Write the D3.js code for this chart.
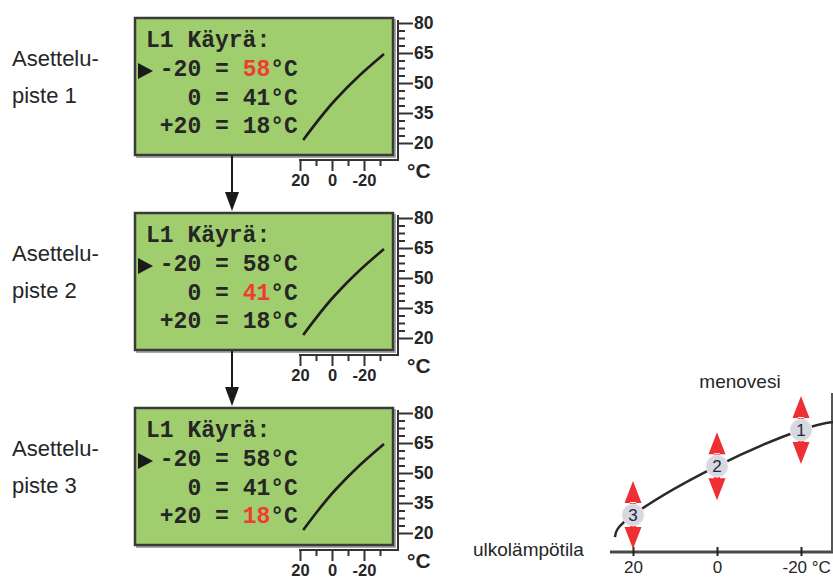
<!DOCTYPE html>
<html><head><meta charset="utf-8">
<script src="https://cdn.jsdelivr.net/npm/d3@7"></script>
<style>body{margin:0;background:#fff}svg{display:block}</style>
</head><body>
<svg id="c" width="833" height="580"></svg>
<script>
// ---- data ----
const title = "L1 Käyrä:";
const outdoorTemps = ["-20", "0", "+20"];
const flowTemps = ["58", "41", "18"];
const panelLabels = [["Asettelu-", "piste 1"], ["Asettelu-", "piste 2"], ["Asettelu-", "piste 3"]];
const highlightRow = [0, 1, 2];
const miniYTicks = [20, 35, 50, 65, 80];
const miniYMinor = [23.75, 27.5, 31.25, 38.75, 42.5, 46.25, 53.75, 57.5, 61.25, 68.75, 72.5, 76.25];
const miniXTicks = [20, 0, -20];
const miniXMinor = [10, -10, -30];
const miniCurve = [[18, 21.5], [-2, 41.5], [-17.5, 54], [-32.5, 64.5]];
const curveX = [24.3, 20, 0, -20, -27.7];
const curveY = [7.6, 18, 41, 58, 61.8];
const markerX = [-20, 0, 20];
const markerY = [58, 41, 18];
const markerLabels = ["1", "2", "3"];
const bigXTicks = [20, 0, -20];
const xAxisTitle = "ulkolämpötila";
const yAxisTitle = "menovesi";

const svg = d3.select("#c");
const panelStep = 195;
const ink = "#262626";
const sans = "Liberation Sans, Arial, sans-serif";

// mini chart scales (panel 1 coordinates)
const mx = d3.scaleLinear().domain([20, -20]).range([300, 364]);
const my = d3.scaleLinear().domain([20, 80]).range([143, 23]);

panelLabels.forEach((lab, p) => {
  const g = svg.append("g").attr("transform", `translate(0,${p * panelStep})`);
  // left label
  g.append("text").attr("x", 12).attr("y", 66).text(lab[0])
    .attr("font-family", sans).attr("font-size", 22).attr("fill", ink);
  g.append("text").attr("x", 12).attr("y", 103).text(lab[1])
    .attr("font-family", sans).attr("font-size", 22).attr("fill", ink);
  // box
  g.append("rect").attr("x", 137).attr("y", 20).attr("width", 258).attr("height", 137)
    .attr("fill", "none").attr("stroke", "#a8a8a8").attr("stroke-width", 2);
  g.append("rect").attr("x", 135).attr("y", 18).attr("width", 258).attr("height", 137)
    .attr("fill", "#a0ce6e").attr("stroke", "#3a3a3a").attr("stroke-width", 2.5);
  // text
  const tf = "Liberation Mono, Courier New, monospace";
  g.append("text").attr("x", 146).attr("y", 47).text(title)
    .attr("font-family", tf).attr("font-size", 23).attr("font-weight", "bold").attr("fill", ink)
    .style("white-space", "pre");
  outdoorTemps.forEach((o, i) => {
    const bl = 76 + i * 28.7;
    const t = g.append("text").attr("x", 146).attr("y", bl)
      .attr("font-family", tf).attr("font-size", 23).attr("font-weight", "bold").attr("fill", ink)
      .style("white-space", "pre");
    t.append("tspan").text(o.padStart(4, " ") + " = ");
    t.append("tspan").text(flowTemps[i]).attr("fill", i === highlightRow[p] ? "#ee3b33" : ink);
    t.append("tspan").text("°C");
  });
  // pointer triangle
  g.append("path").attr("d", "M138,63L153,71L138,79Z").attr("fill", "#1a1a1a");
  // mini curve
  g.append("path").datum(miniCurve)
    .attr("d", d3.line().x(d => mx(d[0])).y(d => my(d[1])).curve(d3.curveMonotoneY))
    .attr("fill", "none").attr("stroke", "#1e1e1e").attr("stroke-width", 2.6);
  // axes frame lines
  g.append("line").attr("x1", 398).attr("x2", 398).attr("y1", 20).attr("y2", 160)
    .attr("stroke", "#333").attr("stroke-width", 2);
  g.append("line").attr("x1", 299).attr("x2", 399).attr("y1", 160).attr("y2", 160)
    .attr("stroke", "#333").attr("stroke-width", 2);
  // y axis
  const ya = g.append("g").attr("transform", "translate(398,0)")
    .call(d3.axisRight(my).tickValues(miniYTicks).tickSize(15).tickPadding(1).tickFormat(d => d));
  const ym = g.append("g").attr("transform", "translate(398,0)")
    .call(d3.axisRight(my).tickValues(miniYMinor).tickSize(7).tickFormat(""));
  const xa = g.append("g").attr("transform", "translate(0,160)")
    .call(d3.axisBottom(mx).tickValues(miniXTicks).tickSize(11).tickPadding(3).tickFormat(d => d));
  const xm = g.append("g").attr("transform", "translate(0,160)")
    .call(d3.axisBottom(mx).tickValues(miniXMinor).tickSize(6).tickFormat(""));
  [ya, ym, xa, xm].forEach(a => {
    a.select(".domain").remove();
    a.selectAll(".tick line").attr("stroke", "#333").attr("stroke-width", 2);
    a.selectAll(".tick text").attr("font-family", sans)
      .attr("font-weight", "bold").attr("fill", ink);
  });
  ya.selectAll(".tick text").attr("font-size", 17.5);
  xa.selectAll(".tick text").attr("font-size", 16.5);
  g.append("text").attr("x", 407).attr("y", 178).text("°C")
    .attr("font-family", sans).attr("font-size", 21)
    .attr("font-weight", "bold").attr("fill", ink);
  // arrow to next panel
  if (p < panelLabels.length - 1) {
    g.append("line").attr("x1", 232).attr("x2", 232).attr("y1", 156).attr("y2", 196)
      .attr("stroke", "#1a1a1a").attr("stroke-width", 2);
    g.append("path").attr("d", "M225,192L239,192L232,211Z").attr("fill", "#1a1a1a");
  }
});

// ---- right chart ----
const bx = d3.scaleLinear().domain([20, -20]).range([633, 801]);
const by = d3.scaleLinear().domain([18, 58]).range([515, 430]);

svg.append("line").attr("x1", 832).attr("x2", 832).attr("y1", 393).attr("y2", 552)
  .attr("stroke", "#555").attr("stroke-width", 2);
const bxa = svg.append("g").attr("transform", "translate(0,552)")
  .call(d3.axisBottom(bx).tickValues(bigXTicks).tickSize(9).tickPadding(3)
    .tickFormat(d => d === -20 ? "-20 °C" : d));
bxa.select(".domain").remove();
svg.insert("line", "g").attr("x1", 610).attr("x2", 833).attr("y1", 552).attr("y2", 552)
  .attr("stroke", "#4a4a4a").attr("stroke-width", 3);
bxa.selectAll(".tick line").attr("y1", -5).attr("y2", 4).attr("stroke", "#222").attr("stroke-width", 2);
bxa.selectAll(".tick text").attr("font-family", sans)
  .attr("font-size", 17).attr("fill", ink).attr("dy", "0.5em")
  .attr("text-anchor", d => d === -20 ? "start" : "middle")
  .attr("dx", d => d === -20 ? -19 : 0);

svg.append("text").attr("x", 473).attr("y", 556).text(xAxisTitle)
  .attr("font-family", sans).attr("font-size", 19).attr("fill", ink);
svg.append("text").attr("x", 740).attr("y", 388).attr("text-anchor", "middle").text(yAxisTitle)
  .attr("font-family", sans).attr("font-size", 19).attr("fill", ink);

const curvePts = curveX.map((x, i) => [x, curveY[i]]);
svg.append("path").datum(curvePts)
  .attr("d", d3.line().x(d => bx(d[0])).y(d => by(d[1])).curve(d3.curveNatural))
  .attr("fill", "none").attr("stroke", "#2a2a2a").attr("stroke-width", 2.5);

markerX.forEach((mxv, i) => {
  const cx = bx(mxv), cy = by(markerY[i]);
  svg.append("path")
    .attr("d", `M${cx - 8.5},${cy - 12}L${cx + 8.5},${cy - 12}L${cx},${cy - 34}Z M${cx - 8.5},${cy + 12}L${cx + 8.5},${cy + 12}L${cx},${cy + 34}Z M${cx - 3},${cy - 13}h6v26h-6Z`)
    .attr("fill", "#ee3034");
  svg.append("circle").attr("cx", cx).attr("cy", cy).attr("r", 11)
    .attr("fill", "#d8d8e0").attr("stroke", "#ececf0").attr("stroke-width", 1);
  svg.append("text").attr("x", cx).attr("y", cy + 6).attr("text-anchor", "middle").text(markerLabels[i])
    .attr("font-family", sans).attr("font-size", 17).attr("fill", "#1f2740");
});
</script>
</body></html>
